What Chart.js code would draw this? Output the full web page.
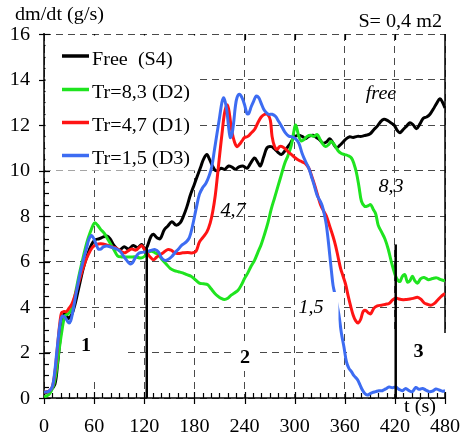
<!DOCTYPE html>
<html>
<head>
<meta charset="utf-8">
<script src="https://cdn.jsdelivr.net/npm/chart.js@4/dist/chart.umd.min.js"></script>
<style>
  html, body { margin: 0; padding: 0; background: #fff; }
  canvas { display: block; }
</style>
</head>
<body>
<canvas id="c" width="461" height="435"></canvas>
<script>
// Mass loss rate dm/dt (g/s) versus time t (s), sample area S = 0,4 m2

const xTicks = [0, 60, 120, 180, 240, 300, 360, 420, 480];
const yTicks = [0, 2, 4, 6, 8, 10, 12, 14, 16];

const seriesLabels = ['Free  (S4)', 'Tr=8,3 (D2)', 'Tr=4,7 (D1)', 'Tr=1,5 (D3)'];

// Free (S4)
const freeT = [0, 8, 13, 16, 19, 22, 25, 29, 33, 37, 42, 47, 52, 57, 61, 66, 71, 75, 79, 84, 90, 96, 101, 107, 112, 117, 121, 124, 128, 131, 135, 139, 144, 148, 153, 158, 163, 167, 171, 175, 180, 184, 188, 191, 195, 198, 201, 205, 208, 212, 216, 221, 225, 229, 233, 238, 243, 247, 252, 256, 259, 263, 267, 272, 276, 280, 284, 288, 291, 295, 299, 304, 309, 313, 317, 322, 326, 330, 334, 338, 342, 346, 350, 354, 358, 362, 366, 370, 375, 380, 385, 390, 395, 399, 403, 407, 411, 415, 419, 423, 426, 430, 434, 438, 442, 446, 450, 454, 458, 462, 466, 470, 474, 477, 480];
const freeV = [0.2, 0.35, 0.6, 1.4, 2.5, 3.4, 3.75, 3.5, 3.65, 4.1, 4.9, 5.7, 6.3, 6.75, 6.95, 7.0, 7.08, 7.12, 7.0, 6.7, 6.5, 6.65, 6.55, 6.7, 6.6, 6.75, 6.5, 6.7, 7.1, 7.2, 7.05, 7.0, 7.4, 7.55, 7.75, 7.6, 7.7, 8.0, 8.4, 8.9, 9.4, 9.8, 10.2, 10.5, 10.7, 10.5, 10.25, 10.0, 10.0, 10.1, 10.05, 10.2, 10.15, 10.05, 10.15, 10.2, 10.1, 10.3, 10.55, 10.35, 10.2, 10.6, 11.0, 11.05, 10.95, 10.8, 10.7, 10.85, 11.0, 11.2, 11.45, 11.55, 11.5, 11.4, 11.5, 11.55, 11.45, 11.35, 11.2, 11.25, 11.4, 11.2, 11.0, 11.1, 11.25, 11.4, 11.48, 11.45, 11.5, 11.5, 11.55, 11.6, 11.8, 11.95, 12.15, 12.25, 12.2, 12.1, 12.0, 11.75, 11.66, 11.8, 11.95, 12.1, 12.0, 11.84, 12.05, 12.3, 12.35, 12.47, 12.7, 12.95, 13.15, 13.0, 12.75];

// Tr=8,3 (D2)
const d2T = [0, 6, 11, 14, 17, 21, 25, 29, 33, 37, 42, 47, 51, 55, 59, 61, 64, 68, 72, 76, 80, 84, 88, 93, 98, 104, 110, 116, 121, 125, 129, 133, 137, 141, 146, 151, 156, 161, 166, 171, 176, 181, 186, 191, 196, 200, 204, 208, 212, 216, 220, 224, 228, 232, 236, 240, 244, 248, 252, 256, 260, 264, 268, 272, 276, 280, 284, 288, 292, 296, 299, 301, 303, 305, 308, 311, 315, 319, 323, 327, 330, 333, 337, 341, 344, 348, 352, 356, 360, 364, 368, 371, 374, 377, 380, 384, 388, 391, 394, 397, 400, 404, 408, 412, 416, 420, 423, 426, 429, 432, 435, 438, 441, 444, 447, 451, 455, 460, 465, 470, 475, 480];
const d2V = [0.05, 0.15, 0.5, 1.0, 1.8, 2.85, 3.6, 3.7, 3.9, 4.5, 5.4, 6.2, 6.8, 7.25, 7.62, 7.7, 7.6, 7.4, 7.25, 7.0, 6.75, 6.5, 6.25, 6.2, 6.2, 6.2, 6.2, 6.15, 6.25, 6.42, 6.45, 6.38, 6.3, 6.1, 5.9, 5.7, 5.6, 5.55, 5.5, 5.42, 5.35, 5.2, 5.05, 5.02, 4.98, 4.8, 4.62, 4.48, 4.38, 4.33, 4.38, 4.52, 4.62, 4.72, 4.95, 5.25, 5.5, 5.8, 6.05, 6.4, 6.75, 7.2, 7.7, 8.3, 8.8, 9.3, 9.8, 10.3, 10.65, 11.1, 11.7, 12.0, 11.8, 11.5, 11.3, 11.35, 11.5, 11.55, 11.5, 11.58, 11.4, 11.2, 11.05, 11.15, 11.28, 11.1, 10.87, 10.75, 10.7, 10.65, 10.55, 10.3, 9.9, 9.3, 8.65, 8.42, 8.45, 8.5, 8.3, 8.1, 7.6, 7.3, 7.0, 6.55, 5.95, 5.45, 5.2, 5.12, 5.35, 5.42, 5.1, 5.15, 5.35, 5.15, 5.05, 5.25, 5.3, 5.2, 5.25, 5.28, 5.2, 5.15];

// Tr=4,7 (D1)
const d1T = [0, 6, 10, 13, 15, 17, 19, 21, 24, 27, 30, 33, 37, 41, 45, 49, 53, 58, 63, 68, 74, 80, 86, 91, 96, 100, 105, 110, 114, 117, 120, 123, 127, 131, 135, 139, 143, 148, 152, 156, 160, 166, 172, 178, 182, 186, 190, 195, 199, 202, 205, 208, 210, 213, 216, 219, 221, 223, 225, 228, 231, 234, 237, 240, 244, 248, 252, 256, 260, 264, 268, 271, 273, 276, 279, 282, 285, 289, 293, 297, 301, 305, 309, 313, 317, 320, 324, 328, 331, 335, 338, 342, 346, 349, 352, 355, 358, 361, 364, 367, 370, 373, 376, 379, 382, 385, 388, 391, 395, 399, 404, 409, 413, 417, 421, 425, 430, 434, 438, 442, 447, 451, 455, 459, 463, 467, 471, 475, 480];
const d1V = [0.25, 0.3, 0.5, 1.1, 1.8, 2.6, 3.3, 3.75, 3.8, 3.8, 3.95, 4.1, 4.5, 5.0, 5.5, 5.95, 6.3, 6.62, 6.75, 6.78, 6.74, 6.65, 6.6, 6.48, 6.38, 6.45, 6.55, 6.5, 6.62, 6.7, 6.55, 6.4, 6.2, 6.08, 6.2, 6.3, 6.4, 6.52, 6.5, 6.4, 6.35, 6.38, 6.4, 6.38, 6.45, 6.85, 7.05, 7.3, 7.7, 8.2, 8.9, 9.9, 10.6, 11.6, 12.5, 12.88, 12.7, 12.2, 11.7, 11.25, 11.05, 11.15, 11.3, 11.45, 11.5, 11.65, 11.8, 12.1, 12.35, 12.47, 12.45, 12.2, 11.5, 11.05, 10.93, 11.05, 11.05, 10.95, 10.8, 10.68, 10.55, 10.45, 10.38, 10.3, 10.1, 9.8, 9.35, 8.85, 8.5, 8.2, 8.0, 7.55, 7.1, 6.7, 6.2, 5.7, 5.35, 5.0, 4.5, 4.05, 3.65, 3.4, 3.3, 3.45, 3.8, 3.85, 3.75, 3.7, 3.95, 4.05, 4.08, 4.12, 4.15, 4.3, 4.4, 4.35, 4.32, 4.33, 4.35, 4.38, 4.43, 4.35, 4.18, 4.12, 4.08, 4.15, 4.3, 4.45, 4.6];

// Tr=1,5 (D3)
const d3T = [0, 6, 10, 13, 15, 17, 19, 21, 23, 25, 28, 30, 32, 34, 37, 40, 43, 47, 51, 54, 57, 59, 62, 65, 68, 71, 75, 79, 83, 87, 91, 95, 99, 103, 106, 109, 113, 117, 121, 125, 129, 133, 137, 141, 145, 149, 153, 157, 161, 165, 170, 174, 178, 182, 186, 190, 194, 198, 201, 204, 207, 210, 213, 215, 217, 219, 221, 223, 225, 227, 229, 231, 234, 237, 240, 243, 245, 248, 251, 254, 257, 260, 263, 266, 269, 273, 277, 281, 285, 289, 293, 297, 301, 305, 309, 313, 317, 320, 323, 327, 330, 333, 336, 338, 340, 342, 344, 346, 348, 350, 353, 356, 359, 362, 365, 368, 371, 375, 378, 381, 384, 387, 390, 393, 397, 401, 405, 409, 413, 417, 421, 425, 429, 433, 437, 441, 445, 449, 453, 457, 461, 465, 469, 473, 477, 480];
const d3V = [0.25, 0.3, 0.5, 1.2, 1.9, 2.6, 3.2, 3.55, 3.6, 3.55, 3.38, 3.3, 3.4, 3.7, 4.3, 4.9, 5.45, 6.05, 6.6, 7.0, 7.14, 7.05, 6.8, 6.55, 6.55, 6.64, 6.68, 6.65, 6.6, 6.55, 6.45, 6.25, 6.05, 5.9, 5.95, 6.15, 6.35, 6.4, 6.42, 6.45, 6.5, 6.52, 6.42, 6.15, 6.05, 6.1, 6.22, 6.4, 6.55, 6.72, 6.85, 7.05, 7.6, 8.3, 8.95, 9.25, 9.45, 9.8, 10.2, 10.9, 11.6, 12.3, 13.0, 13.2, 13.0, 12.6, 11.9, 11.45, 11.6, 12.1, 12.8, 13.2, 13.35, 13.2, 12.9, 12.5, 12.5, 12.8, 13.05, 13.27, 13.2, 12.95, 12.69, 12.55, 12.47, 12.47, 12.38, 12.15, 11.9, 11.65, 11.51, 11.48, 11.4, 11.2, 10.75, 10.4, 10.1, 9.75, 9.4, 8.9, 8.7, 8.45, 8.0, 7.6, 7.0, 6.3, 5.6, 4.95, 4.6, 4.25, 3.66, 2.85, 2.25, 1.6, 1.3, 1.16, 0.98, 0.82, 0.6, 0.36, 0.2, 0.13, 0.18, 0.24, 0.28, 0.32, 0.32, 0.4, 0.48, 0.45, 0.48, 0.38, 0.32, 0.42, 0.32, 0.28, 0.46, 0.38, 0.42, 0.35, 0.28, 0.3, 0.4, 0.35, 0.3, 0.32];

// Phase boundaries (time, height reached by the separator)
const phaseT = [123, 421];
const phaseTop = [6.6, 6.75];
const phaseNames = ['1', '2', '3'];
const curveNotes = ['free', '8,3', '4,7', '1,5'];

const colors = ['#000000', '#1fe41f', '#ff1414', '#3d6cf2'];
const pts = (t, v) => t.map((ti, i) => ({ x: ti, y: v[i] }));

const SERIF = '"Liberation Serif", "Times New Roman", serif';
const STRETCH = 1.12;

function txt(ctx, s, x, y, align, font) {
  ctx.save();
  ctx.font = font;
  ctx.textAlign = align;
  ctx.textBaseline = 'alphabetic';
  ctx.fillStyle = '#000';
  ctx.translate(x, y);
  ctx.scale(STRETCH, 1);
  ctx.fillText(s, 0, 0);
  ctx.restore();
}
function seg(ctx, x1, y1, x2, y2) {
  ctx.beginPath(); ctx.moveTo(x1, y1); ctx.lineTo(x2, y2); ctx.stroke();
}

const frame = {
  id: 'frame',
  beforeDatasetsDraw(chart) {
    const { ctx, chartArea: a, scales: { x, y } } = chart;
    ctx.save();
    ctx.strokeStyle = '#000';
    ctx.lineWidth = 1.5;
    seg(ctx, a.left, a.top - 1, a.left, a.bottom);
    seg(ctx, a.left, a.bottom, a.right, a.bottom);
    seg(ctx, a.right, a.top, a.right, a.bottom);
    ctx.lineWidth = 1.2;
    for (let v = 0; v <= 16; v += 0.5) {
      const py = Math.round(y.getPixelForValue(v)) + 0.5;
      const major = v % 2 === 0;
      seg(ctx, a.left - (major ? 5 : 0), py, a.left + (major ? 6 : 5), py);
    }
    for (let t = 0; t <= 480; t += 10) {
      const px = Math.round(x.getPixelForValue(t)) + 0.5;
      const major = t % 60 === 0;
      seg(ctx, px, a.bottom + (major ? 6 : 0), px, a.bottom - (major ? 6 : 5));
    }
    for (let t = 60; t <= 420; t += 60) {
      const px = Math.round(x.getPixelForValue(t)) + 0.5;
      seg(ctx, px, a.top, px, a.top + 6);
    }
    // blank panels behind the legend and the phase numbers
    ctx.fillStyle = '#fff';
    ctx.fillRect(a.left + 1.5, a.top + 1.5, 152, 135);
    ctx.fillRect(78, 328, 49, 52);
    ctx.fillRect(232, 341, 28, 30);
    ctx.fillRect(347, 333, 108, 59);
    ctx.restore();
  },
  afterDatasetsDraw(chart) {
    const { ctx, chartArea: a, scales: { x, y } } = chart;
    ctx.save();
    // label panel over the falling Tr=1,5 curve
    ctx.fillStyle = '#fff';
    ctx.fillRect(296, 292, 42.5, 34);

    // phase separators
    ctx.strokeStyle = '#000';
    ctx.lineWidth = 2.5;
    phaseT.forEach((t, i) => {
      const px = x.getPixelForValue(t);
      seg(ctx, px, y.getPixelForValue(phaseTop[i]), px, a.bottom);
    });

    // legend
    const legY = [56, 89.5, 122.5, 155.5];
    chart.data.datasets.forEach((ds, i) => {
      ctx.strokeStyle = ds.borderColor;
      ctx.lineWidth = 3.5;
      seg(ctx, 62, legY[i], 89, legY[i]);
      txt(ctx, ds.label, 92, legY[i] + 8.5, 'left', '18px ' + SERIF);
    });

    // curve notes and phase numbers
    const it = 'italic 18px ' + SERIF;
    txt(ctx, curveNotes[0], 381, 99, 'center', it);
    txt(ctx, curveNotes[1], 391, 192, 'center', it);
    txt(ctx, curveNotes[2], 233, 216, 'center', it);
    txt(ctx, curveNotes[3], 311, 313, 'center', it);
    const bd = 'bold 18px ' + SERIF;
    txt(ctx, phaseNames[0], 86, 351, 'center', bd);
    txt(ctx, phaseNames[1], 245, 363, 'center', bd);
    txt(ctx, phaseNames[2], 418.5, 356.5, 'center', bd);

    // axes text
    const f = '18px ' + SERIF;
    yTicks.forEach(v => {
      ctx.save();
      ctx.font = f; ctx.textAlign = 'right'; ctx.textBaseline = 'middle'; ctx.fillStyle = '#000';
      ctx.translate(30, y.getPixelForValue(v) + 1);
      ctx.scale(STRETCH, 1);
      ctx.fillText(String(v), 0, 0);
      ctx.restore();
    });
    xTicks.forEach(t => txt(ctx, String(t), x.getPixelForValue(t), 431.5, 'center', f));
    txt(ctx, 'dm/dt (g/s)', 15, 19.5, 'left', f);
    txt(ctx, 'S= 0,4 m2', 442, 26.5, 'right', f);
    txt(ctx, 't (s)', 420, 411.5, 'center', f);
    ctx.restore();
  }
};

const series = [[freeT, freeV], [d2T, d2V], [d1T, d1V], [d3T, d3V]];
const drawOrder = [3, 2, 1, 0];

new Chart(document.getElementById('c'), {
  type: 'line',
  data: {
    datasets: series.map(([t, v], i) => ({
      label: seriesLabels[i],
      data: pts(t, v),
      borderColor: colors[i],
      backgroundColor: colors[i],
      borderWidth: 3,
      pointRadius: 0,
      tension: 0.35,
      fill: false,
      order: drawOrder[i]
    }))
  },
  options: {
    responsive: false,
    animation: false,
    events: [],
    layout: { padding: { left: 44, right: 16, top: 34, bottom: 37 } },
    plugins: { legend: { display: false }, tooltip: { enabled: false } },
    scales: {
      x: {
        type: 'linear', min: 0, max: 480,
        ticks: { display: false, stepSize: 60 },
        grid: { color: '#4a4a4a', lineWidth: 1, drawTicks: false },
        border: { display: false, dash: [7, 5] }
      },
      y: {
        type: 'linear', min: 0, max: 16,
        ticks: { display: false, stepSize: 2 },
        grid: { color: '#4a4a4a', lineWidth: 1, drawTicks: false },
        border: { display: false, dash: [7, 5] }
      }
    }
  },
  plugins: [frame]
});
</script>
</body>
</html>
